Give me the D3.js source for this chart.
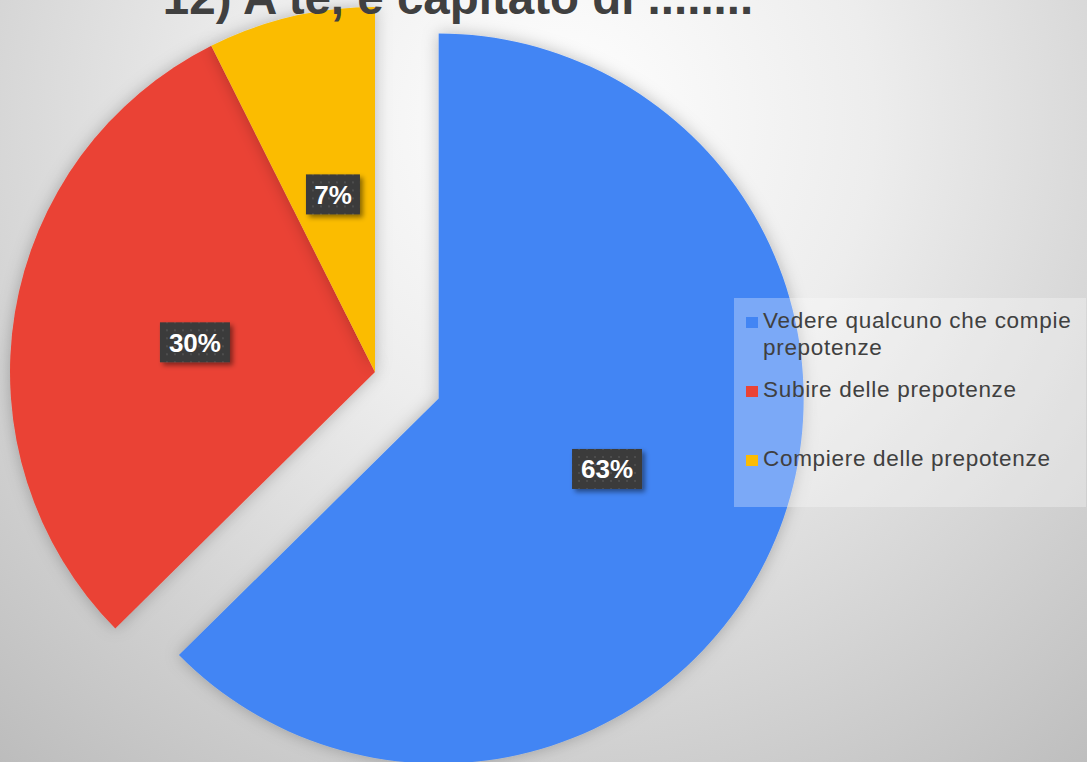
<!DOCTYPE html>
<html>
<head>
<meta charset="utf-8">
<script src="https://cdn.jsdelivr.net/npm/d3@7"></script>
<style>
  body { margin: 0; overflow: hidden; }
  svg { display: block; font-family: "Liberation Sans", Arial, sans-serif; }
</style>
</head>
<body>
<div class="chart"></div>
<script>
var categories = ["Vedere qualcuno che compie prepotenze", "Subire delle prepotenze", "Compiere delle prepotenze"]
var legendLines = [["Vedere qualcuno che compie", "prepotenze"], ["Subire delle prepotenze"], ["Compiere delle prepotenze"]]
var values = [62.6, 30.0, 7.4]
var colors = ["#4285f4", "#ea4335", "#fbbc04"]
var title = "12) A te, è capitato di ........"

var width = 1087,
  height = 762,
  radius = 365,
  cx = 375,
  cy = 372;

var svg = d3.select(".chart").append("svg")
  .attr("width", width)
  .attr("height", height)

var defs = svg.append("defs")

var bg = defs.append("radialGradient")
  .attr("id", "bg")
  .attr("gradientUnits", "userSpaceOnUse")
  .attr("cx", 560).attr("cy", 120).attr("r", 900)
bg.append("stop").attr("offset", "0%").attr("stop-color", "#ffffff")
bg.append("stop").attr("offset", "35%").attr("stop-color", "#ededed")
bg.append("stop").attr("offset", "100%").attr("stop-color", "#b8b8b8")

var shadow = defs.append("filter").attr("id", "pieShadow")
  .attr("x", "-20%").attr("y", "-20%").attr("width", "140%").attr("height", "140%")
shadow.append("feDropShadow")
  .attr("dx", 0).attr("dy", 0).attr("stdDeviation", 8)
  .attr("flood-color", "#000").attr("flood-opacity", 0.25)

var boxShadow = defs.append("filter").attr("id", "boxShadow")
  .attr("x", "-30%").attr("y", "-30%").attr("width", "160%").attr("height", "160%")
boxShadow.append("feDropShadow")
  .attr("dx", 3).attr("dy", 3).attr("stdDeviation", 2.5)
  .attr("flood-color", "#000").attr("flood-opacity", 0.45)

var dots = defs.append("pattern").attr("id", "dots")
  .attr("patternUnits", "userSpaceOnUse").attr("width", 8).attr("height", 8)
dots.append("rect").attr("width", 8).attr("height", 8).attr("fill", "#3a3a3a")
dots.append("rect").attr("x", 3).attr("y", 3).attr("width", 2).attr("height", 2).attr("fill", "#4e4e4e")

svg.append("rect")
  .attr("width", width).attr("height", height)
  .attr("fill", "url(#bg)")

var pie = d3.pie().sort(null).value(function (d) { return d })
var arcs = pie(values)

var arc = d3.arc().innerRadius(0).outerRadius(radius)
var labelArc = d3.arc().innerRadius(radius * 0.5).outerRadius(radius * 0.5)

// only the biggest slice is pulled out
var explode = [69, 0, 0]

function offset(d, i) {
  var a = (d.startAngle + d.endAngle) / 2
  return [Math.sin(a) * explode[i], -Math.cos(a) * explode[i]]
}

var g = svg.append("g")
  .attr("transform", `translate(${cx},${cy})`)

g.selectAll("path")
  .data(arcs)
  .enter().append("path")
  .attr("d", arc)
  .attr("fill", function (d, i) { return colors[i] })
  .attr("filter", "url(#pieShadow)")
  .attr("transform", function (d, i) {
    var o = offset(d, i)
    return `translate(${o[0]},${o[1]})`
  })

var labels = g.selectAll(".lbl")
  .data(arcs)
  .enter().append("g")
  .attr("class", "lbl")
  .attr("transform", function (d, i) {
    var o = offset(d, i),
      c = labelArc.centroid(d)
    return `translate(${c[0] + o[0]},${c[1] + o[1]})`
  })

labels.append("rect")
  .attr("x", function (d) { return d.data < 10 ? -27 : -35 })
  .attr("y", -20)
  .attr("width", function (d) { return d.data < 10 ? 54 : 70 })
  .attr("height", 40)
  .attr("fill", "url(#dots)")
  .attr("filter", "url(#boxShadow)")

labels.append("text")
  .attr("text-anchor", "middle")
  .attr("dy", "0.36em")
  .attr("fill", "#ffffff")
  .attr("font-weight", "bold")
  .attr("font-size", 26)
  .text(function (d) { return Math.round(d.data) + "%" })

// title, partly out of frame at the top
svg.append("text")
  .attr("x", 458)
  .attr("y", 14)
  .attr("text-anchor", "middle")
  .attr("font-weight", "bold")
  .attr("font-size", 47.5)
  .attr("fill", "#404040")
  .text(title)

// legend
var legend = svg.append("g").attr("transform", "translate(734,298)")
legend.append("rect")
  .attr("width", 352).attr("height", 209)
  .attr("fill", "#ffffff").attr("fill-opacity", 0.3)

var rowY = [30, 99, 168]

var items = legend.selectAll(".item")
  .data(categories)
  .enter().append("g")
  .attr("class", "item")
  .attr("transform", function (d, i) { return `translate(0,${rowY[i]})` })

items.append("rect")
  .attr("x", 12).attr("y", -11)
  .attr("width", 12).attr("height", 11)
  .attr("fill", function (d, i) { return colors[i] })

items.append("text")
  .attr("x", 29)
  .attr("fill", "#404040")
  .attr("font-size", 22.5)
  .attr("letter-spacing", 0.7)
  .each(function (d, i) {
    d3.select(this).selectAll("tspan")
      .data(legendLines[i])
      .enter().append("tspan")
      .attr("x", 29)
      .attr("dy", function (t, j) { return j ? 27 : 0 })
      .text(function (t) { return t })
  })
</script>
</body>
</html>
